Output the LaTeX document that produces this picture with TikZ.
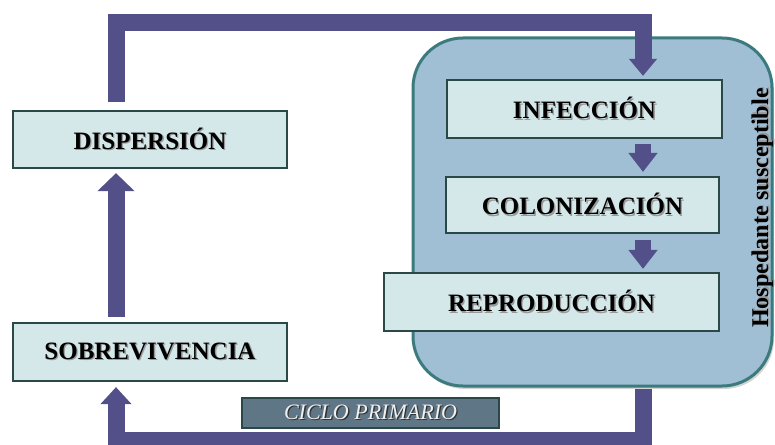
\documentclass[tikz,border=0pt]{standalone}
\usepackage{fontspec}
\setmainfont{Liberation Serif}
\usetikzlibrary{arrows.meta,shadows}
\definecolor{arrowc}{HTML}{534F89}
\definecolor{hostfill}{HTML}{A0BED4}
\definecolor{hostline}{HTML}{3B7B7D}
\definecolor{boxfill}{HTML}{D4E8EA}
\definecolor{boxline}{HTML}{2B4849}
\definecolor{ciclofill}{HTML}{5E7686}
\newcommand\shtxt[2]{\makebox[0pt][l]{\hspace{1.3pt}\raisebox{-1.3pt}{\textcolor{#1}{#2}}}#2}
\begin{document}
\begin{tikzpicture}[x=1pt,y=-1pt,
  stagebox/.style={draw=boxline,line width=2.2pt,fill=boxfill,inner sep=0pt,
    font=\fontsize{25}{28}\selectfont\bfseries},
  flow/.style={draw=arrowc,line width=17pt,line join=miter,
    -{Triangle[width=36pt,length=18pt]}},
  flowsmall/.style={draw=arrowc,line width=16pt,
    -{Triangle[width=28pt,length=19pt]}},
  hostbox/.style={draw=hostline,line width=3pt,fill=hostfill,rounded corners=50pt,
    drop shadow={shadow xshift=2pt,shadow yshift=-3pt,opacity=.35}}
]
\path[use as bounding box] (0,0) rectangle (775,444);
\clip (0,0) rectangle (775,444);

\node[hostbox,minimum width=359pt,minimum height=348pt] (host) at (592.5,212) {};

\coordinate (tl) at (116,23);
\coordinate (tr) at (643,23);
\coordinate (bl) at (116,440);
\coordinate (br) at (643,440);

\node[stagebox,minimum width=274pt,minimum height=57pt] (disp) at (150,139.5) {\shtxt{black!40}{DISPERSIÓN}};
\node[stagebox,minimum width=274pt,minimum height=58pt] (sobre) at (150,352) {\shtxt{black!40}{SOBREVIVENCIA}};
\node[stagebox,minimum width=275pt,minimum height=58pt] (infe) at (584.5,109) {\shtxt{black!40}{INFECCIÓN}};
\node[stagebox,minimum width=273pt,minimum height=56pt] (colo) at (582.5,205) {\shtxt{black!40}{COLONIZACIÓN}};
\node[stagebox,minimum width=335pt,minimum height=58pt] (repro) at (551.5,302) {\shtxt{black!40}{REPRODUCCIÓN}};

\node[draw=boxline,line width=2pt,fill=ciclofill,inner sep=0pt,minimum width=257pt,minimum height=30pt,
  text=white!94!black,font=\fontsize{22}{24}\selectfont\itshape] (ciclo) at (370.5,413)
  {\shtxt{black!80}{CICLO PRIMARIO}};

\node[rotate=90,font=\fontsize{24}{27}\selectfont\bfseries] (hlabel) at (763,208)
  {\shtxt{black!40}{Hospedante susceptible}};

% connectors
\draw[flow,-{Triangle[width=27pt,length=17pt]},shorten <=8pt,shorten >=3pt]
  (disp.north -| tl) -- (tl) -- (tr) -- (infe.north -| tr);
\draw[flow,shorten <=5pt,shorten >=4pt] (sobre.north -| tl) -- (disp.south -| tl);
\draw[flow,-{Triangle[width=30pt,length=17pt]},shorten <=1pt,shorten >=5pt]
  (host.south -| br) -- (br) -- (bl) -- (sobre.south -| bl);
\draw[flowsmall,shorten <=5pt,shorten >=4pt] (infe.south -| tr) -- (colo.north -| tr);
\draw[flowsmall,shorten <=6pt,shorten >=3pt] (colo.south -| tr) -- (repro.north -| tr);
\end{tikzpicture}
\end{document}
